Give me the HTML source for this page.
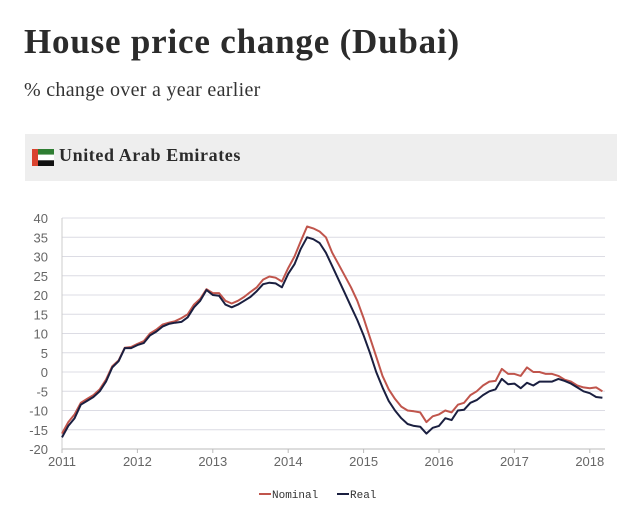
<!DOCTYPE html>
<html><head><meta charset="utf-8"><style>
body{margin:0;background:#fff;width:640px;height:508px;overflow:hidden;font-family:"Liberation Serif",serif;color:#333}
.t{position:absolute;left:24px;top:22px;font-size:35px;font-weight:bold;color:#2b2b2b;letter-spacing:0.8px}
.s{position:absolute;left:24px;top:79px;font-size:20px;color:#333;letter-spacing:0.3px}
.band{position:absolute;left:25px;top:134px;width:592px;height:47px;background:#eeeeee}
.bt{position:absolute;left:59px;top:145px;font-size:18px;font-weight:bold;color:#2b2b2b;letter-spacing:0.6px}
svg{position:absolute;left:0;top:0}
</style></head><body>
<div class="t">House price change (Dubai)</div>
<div class="s">% change over a year earlier</div>
<div class="band"></div>
<svg width="22" height="17" viewBox="0 0 22 17" style="left:32px;top:149px">
<rect x="6" y="0" width="16" height="5.7" fill="#2e7d32"/><rect x="6" y="5.7" width="16" height="5.6" fill="#fff"/><rect x="6" y="11.3" width="16" height="5.7" fill="#111"/><rect x="0" y="0" width="6" height="17" fill="#d9432f"/></svg>
<div class="bt">United Arab Emirates</div>
<svg id="chart" width="640" height="508"></svg>
<script>
const yTicks=[40,35,30,25,20,15,10,5,0,-5,-10,-15,-20];
const xTicks=[2011,2012,2013,2014,2015,2016,2017,2018];
const startYear=2011;
const nominal=[-16,-13,-11,-8,-7,-6,-4.5,-2,1.5,3,6.3,6.5,7.3,8,10,11,12.3,12.8,13.2,14,15,17.5,19,21.5,20.5,20.5,18.5,17.8,18.5,19.5,20.8,22,24,24.8,24.5,23.5,27,30,34,37.8,37.3,36.5,35,31,28,25,22,18.5,14,9,4,-1,-4.5,-7,-9,-10,-10.2,-10.5,-13,-11.5,-11,-10,-10.5,-8.5,-8,-6,-5,-3.5,-2.5,-2.3,0.8,-0.5,-0.5,-1,1.2,0,0,-0.5,-0.5,-1,-2,-2.5,-3.5,-4,-4.2,-4,-5];
const real=[-17,-14,-12,-8.5,-7.5,-6.5,-5,-2.5,1.2,2.8,6.2,6.2,7,7.5,9.5,10.5,11.8,12.5,12.8,13,14.2,16.8,18.5,21.3,20,19.8,17.5,16.8,17.5,18.5,19.5,21,22.8,23.2,23,22,25.5,28,32,35,34.5,33.5,31,27.5,24,20.5,17,13.5,9.5,5,0,-4,-7.5,-10,-12,-13.5,-14,-14.2,-16,-14.5,-14,-12,-12.5,-10,-9.8,-8,-7.3,-6,-5,-4.5,-1.8,-3.2,-3,-4.2,-2.8,-3.5,-2.5,-2.5,-2.5,-1.8,-2.3,-3,-4,-5,-5.5,-6.5,-6.7];
const NS="http://www.w3.org/2000/svg";
const svg=document.getElementById('chart');
const x0=62,x1=605,yTop=218,yBot=449;
const xs=v=>62+(v-2011)*75.4;
const ys=v=>yTop+(40-v)*(yBot-yTop)/60;
function mk(t,a){const e=document.createElementNS(NS,t);for(const k in a)e.setAttribute(k,a[k]);svg.appendChild(e);return e;}
yTicks.forEach(v=>{
 const g=mk('line',{x1:x0,x2:x1,y1:ys(v),y2:ys(v),stroke:v===-20?'#bbb':'#dcdce4','stroke-width':1});
 
 
 const t=mk('text',{x:48,y:ys(v)+5,'text-anchor':'end','font-size':13,fill:'#666','font-family':'"Liberation Sans",sans-serif'});
 t.textContent=v;
 
 
});
mk('line',{x1:x0,x2:x0,y1:yTop,y2:yBot,stroke:'#ccc'});
xTicks.forEach(v=>{
 mk('line',{x1:xs(v),x2:xs(v),y1:yBot,y2:yBot+4,stroke:'#bbb'});
 const t=mk('text',{x:xs(v),y:466,'text-anchor':'middle','font-size':13,fill:'#666','font-family':'"Liberation Sans",sans-serif'});
 t.textContent=v;
 
 
});
function line(arr,col,name){
 const d=arr.map((v,i)=>(i?'L':'M')+xs(startYear+i/12).toFixed(1)+','+ys(v).toFixed(1)).join('');
 const p=mk('path',{d:d,fill:'none',stroke:col,'stroke-width':2,'stroke-linejoin':'round'});
 
 
}
line(nominal,'#c0554c','nominal-line');
line(real,'#1a1f40','real-line');
function leg(x,col,label,name){
 const g=mk('line',{x1:x,x2:x+12,y1:494,y2:494,stroke:col,'stroke-width':2});
 
 
 const t=mk('text',{x:x+13,y:498,'font-size':11,fill:'#333','font-family':'"Liberation Mono",monospace'});
 t.textContent=label;
 
 
}
leg(259,'#c0554c','Nominal','legend-nominal');
leg(337,'#1a1f40','Real','legend-real');
</script>
</body></html>
